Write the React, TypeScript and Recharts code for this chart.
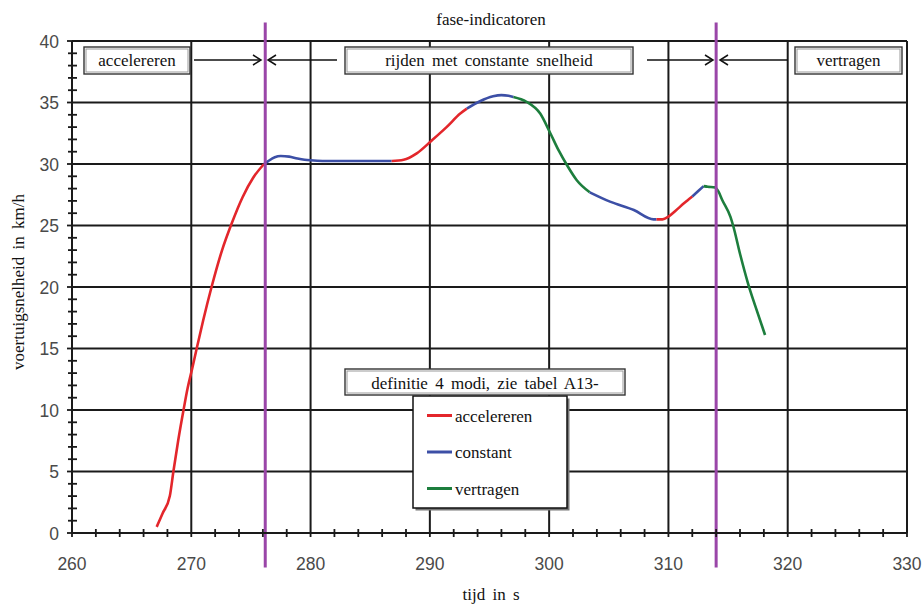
import React from 'react';
import { LineChart, Line, XAxis, YAxis, CartesianGrid, ReferenceLine } from 'recharts';

// Axis ticks
const majorTimeTicks = [260, 270, 280, 290, 300, 310, 320, 330];
const majorSpeedTicks = [0, 5, 10, 15, 20, 25, 30, 35, 40];
const timeTicks: number[] = [];
for (let t = 260; t <= 330; t += 2) timeTicks.push(t);
const speedTicks: number[] = [];
for (let v = 0; v <= 40; v += 1) speedTicks.push(v);

// Phase boundaries (s)
const phaseBoundaries = [276.2, 314.0];

// Speed trace, split per driving mode (t in s, v in km/h)
const accelereren1 = [
  { t: 267.1, v: 0.5 }, { t: 267.6, v: 1.6 }, { t: 268.2, v: 3.0 }, { t: 268.5, v: 5.0 },
  { t: 268.9, v: 7.5 }, { t: 269.35, v: 10.0 }, { t: 269.7, v: 11.8 }, { t: 270.06, v: 13.3 },
  { t: 270.5, v: 15.2 }, { t: 271.0, v: 17.3 }, { t: 271.7, v: 20.0 }, { t: 272.55, v: 22.9 },
  { t: 273.4, v: 25.2 }, { t: 274.3, v: 27.3 }, { t: 275.2, v: 28.9 }, { t: 276.1, v: 30.0 },
];
const constant1 = [
  { t: 276.1, v: 30.0 }, { t: 276.4, v: 30.2 }, { t: 277.0, v: 30.55 }, { t: 277.5, v: 30.65 },
  { t: 278.2, v: 30.6 }, { t: 278.9, v: 30.45 }, { t: 279.5, v: 30.35 }, { t: 280.0, v: 30.3 },
  { t: 281.0, v: 30.25 }, { t: 284.0, v: 30.25 }, { t: 286.8, v: 30.25 },
];
const accelereren2 = [
  { t: 286.8, v: 30.25 }, { t: 287.8, v: 30.35 }, { t: 288.9, v: 30.87 }, { t: 290.2, v: 31.95 },
  { t: 291.4, v: 33.0 }, { t: 292.55, v: 34.1 }, { t: 293.1, v: 34.5 },
];
const constant2 = [
  { t: 293.1, v: 34.5 }, { t: 294.2, v: 35.1 }, { t: 295.3, v: 35.5 }, { t: 296.0, v: 35.6 },
  { t: 296.6, v: 35.55 }, { t: 297.0, v: 35.45 },
];
const vertragen1 = [
  { t: 297.0, v: 35.45 }, { t: 298.1, v: 35.06 }, { t: 299.25, v: 34.1 }, { t: 300.1, v: 32.5 },
  { t: 300.8, v: 31.1 }, { t: 301.5, v: 29.9 }, { t: 302.3, v: 28.7 }, { t: 303.4, v: 27.7 },
];
const constant3 = [
  { t: 303.4, v: 27.7 }, { t: 305.1, v: 26.94 }, { t: 307.1, v: 26.26 }, { t: 308.75, v: 25.5 },
  { t: 309.0, v: 25.5 },
];
const accelereren3 = [
  { t: 309.0, v: 25.5 }, { t: 309.5, v: 25.5 }, { t: 310.0, v: 25.72 }, { t: 310.6, v: 26.2 },
  { t: 311.3, v: 26.8 }, { t: 312.0, v: 27.35 },
];
const constant4 = [
  { t: 312.0, v: 27.35 }, { t: 312.5, v: 27.8 }, { t: 312.95, v: 28.2 },
];
const vertragen2 = [
  { t: 312.95, v: 28.2 }, { t: 313.3, v: 28.15 }, { t: 313.9, v: 28.1 }, { t: 314.2, v: 27.75 },
  { t: 314.5, v: 27.1 }, { t: 315.2, v: 25.7 }, { t: 315.45, v: 24.9 }, { t: 316.0, v: 22.7 },
  { t: 316.7, v: 20.2 }, { t: 317.3, v: 18.4 }, { t: 318.1, v: 16.1 },
];

const RED = '#e3262b';
const BLUE = '#3c4fa6';
const GREEN = '#1d7e3d';
const PURPLE = '#9a46a8';
const INK = '#1a1a1a';
const SERIF = '"Liberation Serif", "DejaVu Serif", serif';
const SANS = '"Liberation Sans", Arial, sans-serif';

const segments = [
  { data: accelereren1, color: RED },
  { data: constant1, color: BLUE },
  { data: accelereren2, color: RED },
  { data: constant2, color: BLUE },
  { data: vertragen1, color: GREEN },
  { data: constant3, color: BLUE },
  { data: accelereren3, color: RED },
  { data: constant4, color: BLUE },
  { data: vertragen2, color: GREEN },
];

const legendItems = [
  { label: 'accelereren', color: RED },
  { label: 'constant', color: BLUE },
  { label: 'vertragen', color: GREEN },
];

const TimeTick = (props: any) => {
  const { x, y, payload } = props;
  const major = majorTimeTicks.includes(payload.value);
  return (
    <g>
      <line x1={x} x2={x} y1={major ? y : y - 4} y2={y + 4} stroke={INK} strokeWidth={1.8} />
      {major && (
        <text x={x} y={y + 37} textAnchor="middle" fontFamily={SANS} fontSize={17.5} fill="#4a4a4a">
          {payload.value}
        </text>
      )}
    </g>
  );
};

const SpeedTick = (props: any) => {
  const { x, y, payload } = props;
  const major = majorSpeedTicks.includes(payload.value);
  return (
    <g>
      <line x1={major ? x - 5 : x - 4} x2={major ? x : x + 5} y1={y} y2={y} stroke={INK} strokeWidth={1.8} />
      {major && (
        <text x={x - 13} y={y + 6.5} textAnchor="end" fontFamily={SANS} fontSize={17.5} fill="#4a4a4a">
          {payload.value}
        </text>
      )}
    </g>
  );
};

const PhaseBox = ({ x1, x2, label }: { x1: number; x2: number; label: string }) => (
  <g>
    <rect x={x1} y={47} width={x2 - x1} height={27} fill="#fff" stroke="#333" strokeWidth={1.4} />
    <rect x={x1 + 2} y={49} width={x2 - x1 - 4} height={23} fill="none" stroke="#9a9a9a" strokeWidth={1} />
    <text x={(x1 + x2) / 2} y={66} textAnchor="middle" fontFamily={SERIF} fontSize={17} wordSpacing={3} fill="#111">
      {label}
    </text>
  </g>
);

const Arrow = ({ from, to }: { from: number; to: number }) => {
  const dir = to > from ? 1 : -1;
  return (
    <g stroke="#111" strokeWidth={1.5} fill="none">
      <line x1={from} x2={to} y1={60} y2={60} />
      <polyline points={`${to - dir * 8},55 ${to},60 ${to - dir * 8},65`} />
    </g>
  );
};

function LegendTitle() {
  return (
    <g>
      <rect x={345} y={369} width={280} height={26} fill="#fff" stroke="#333" strokeWidth={1.4} />
      <rect x={347} y={371} width={276} height={22} fill="none" stroke="#9a9a9a" strokeWidth={1} />
      <text x={485} y={389} textAnchor="middle" fontFamily={SERIF} fontSize={17} wordSpacing={3} fill="#111">
        definitie 4 modi, zie tabel A13-
      </text>
    </g>
  );
}

export default function App() {
  return (
    <div style={{ position: 'absolute', left: 0, top: 0, width: 923, height: 608, background: '#fff' }}>
      <LineChart
        width={923}
        height={608}
        margin={{ top: 41, right: 16, bottom: 74, left: 71 }}
      >
        <CartesianGrid
          verticalValues={majorTimeTicks}
          horizontalValues={majorSpeedTicks}
          stroke={INK}
          strokeWidth={2}
        />
        <XAxis
          type="number"
          dataKey="t"
          domain={[260, 330]}
          ticks={timeTicks}
          interval={0}
          height={1}
          tickSize={0}
          tickMargin={0}
          tickLine={false}
          tick={TimeTick}
          axisLine={{ stroke: INK, strokeWidth: 2 }}
          allowDataOverflow
        />
        <YAxis
          type="number"
          dataKey="v"
          domain={[0, 40]}
          ticks={speedTicks}
          interval={0}
          width={1}
          tickSize={0}
          tickMargin={0}
          tickLine={false}
          tick={SpeedTick}
          axisLine={{ stroke: INK, strokeWidth: 2 }}
          allowDataOverflow
        />
        {segments.map((s, i) => (
          <Line
            key={i}
            data={s.data}
            dataKey="v"
            type="monotone"
            stroke={s.color}
            strokeWidth={2.6}
            dot={false}
            isAnimationActive={false}
          />
        ))}
        {phaseBoundaries.map((t) => (
          <ReferenceLine
            key={t}
            segment={[{ x: t, y: -2.8 }, { x: t, y: 41.5 }]}
            stroke={PURPLE}
            strokeWidth={3}
            ifOverflow="visible"
          />
        ))}
      </LineChart>
      <svg
        width={923}
        height={608}
        style={{ position: 'absolute', left: 0, top: 0, pointerEvents: 'none' }}
      >
        <text x={491} y={25} textAnchor="middle" fontFamily={SERIF} fontSize={17} fill="#111">
          fase-indicatoren
        </text>
        <PhaseBox x1={84} x2={190} label="accelereren" />
        <PhaseBox x1={345} x2={633} label="rijden met constante snelheid" />
        <PhaseBox x1={795} x2={902} label="vertragen" />
        <Arrow from={194} to={261} />
        <Arrow from={337} to={268} />
        <Arrow from={647} to={713} />
        <Arrow from={788} to={720} />

        {/* mode legend */}
        <rect x={415.5} y={398.5} width={154} height={112} fill="#777" />
        <rect x={413} y={396} width={154} height={112} fill="#fff" stroke="#111" strokeWidth={1.5} />
        {legendItems.map((item, i) => {
          const y = 415.5 + i * 36.5;
          return (
            <g key={item.label}>
              <line x1={427} x2={452} y1={y} y2={y} stroke={item.color} strokeWidth={3} />
              <text x={455} y={y + 6} fontFamily={SERIF} fontSize={17} fill="#111">
                {item.label}
              </text>
            </g>
          );
        })}
        <LegendTitle />

        <text x={491} y={600} textAnchor="middle" fontFamily={SERIF} fontSize={17} wordSpacing={3} fill="#111">
          tijd in s
        </text>
        <text
          x={24}
          y={282}
          textAnchor="middle"
          transform="rotate(-90 24 282)"
          fontFamily={SERIF}
          fontSize={17}
          wordSpacing={3}
          fill="#111"
        >
          voertuigsnelheid in km/h
        </text>
      </svg>
    </div>
  );
}
